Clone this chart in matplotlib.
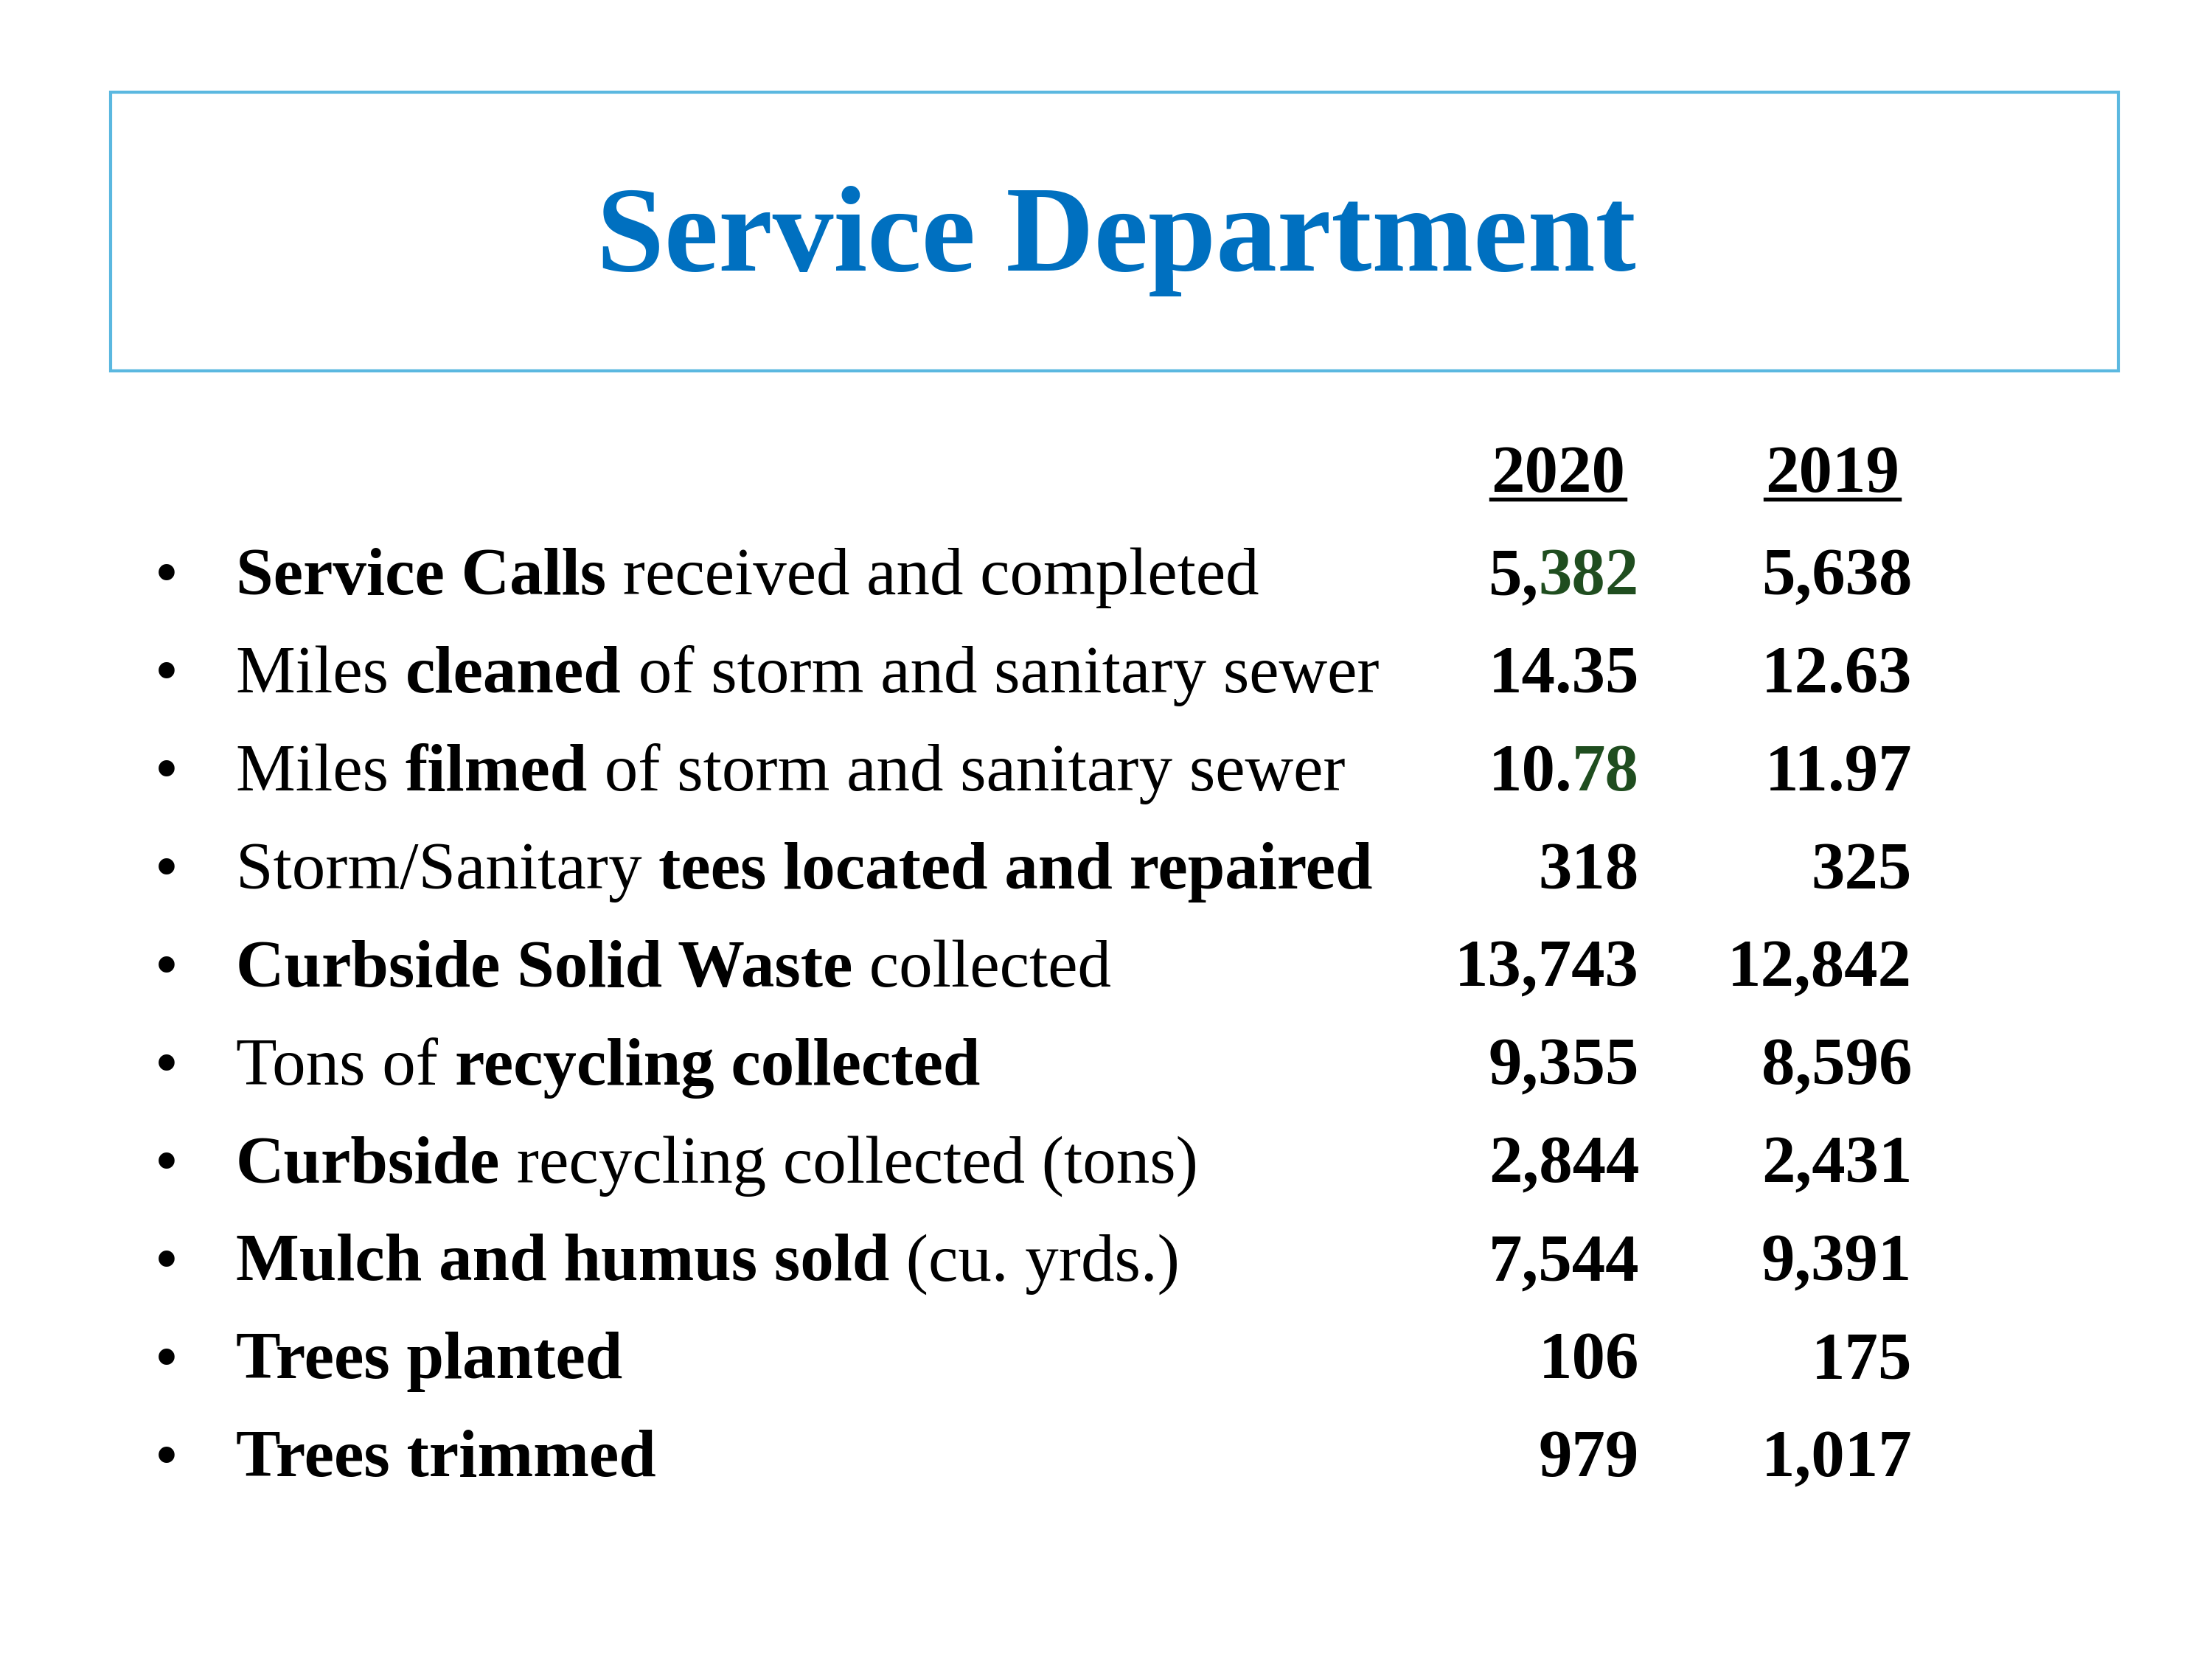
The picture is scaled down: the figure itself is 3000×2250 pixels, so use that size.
import matplotlib
matplotlib.use("Agg")
import matplotlib.pyplot as plt
from matplotlib.patches import Rectangle

title = "Service Department"
years = ["2020", "2019"]
# label segments: (text, bold)
labels = [
    [("Service Calls", True), (" received and completed", False)],
    [("Miles ", False), ("cleaned", True), (" of storm and sanitary sewer", False)],
    [("Miles ", False), ("filmed", True), (" of storm and sanitary sewer", False)],
    [("Storm/Sanitary ", False), ("tees located and repaired", True)],
    [("Curbside Solid Waste", True), (" collected", False)],
    [("Tons of ", False), ("recycling collected", True)],
    [("Curbside", True), (" recycling collected (tons)", False)],
    [("Mulch and humus sold", True), (" (cu. yrds.)", False)],
    [("Trees planted", True)],
    [("Trees trimmed", True)],
]
# value segments: (text, colour)
vals_2020 = [[("5,", "k"), ("382", "#1f4d1f")], [("14.35", "k")], [("10.", "k"), ("78", "#1f4d1f")],
             [("318", "k")], [("13,743", "k")], [("9,355", "k")], [("2,844", "k")],
             [("7,544", "k")], [("106", "k")], [("979", "k")]]
vals_2019 = ["5,638", "12.63", "11.97", "325", "12,842", "8,596", "2,431", "9,391", "175", "1,017"]

W, H = 1556, 1168
fig = plt.figure(figsize=(10, 7.5), dpi=300)
fig.patch.set_facecolor("white")
font = "Liberation Serif"
fig.patches.append(Rectangle((78 / W, 1 - 261 / H), (1490 - 78) / W, (261 - 65) / H,
                             transform=fig.transFigure, fill=False, edgecolor="#5bb8e0", lw=1.0))
fig.text(785 / W, 1 - 170 / H, title, ha="center", va="center", fontsize=39.7,
         fontweight="bold", color="#0070c0", family=font)

r = fig.canvas.get_renderer()
inv = fig.transFigure.inverted()
fs = 21.8

for x, y in zip([1096, 1289], years):
    t = fig.text(x / W, 1 - 335 / H, y, ha="center", va="center", fontsize=fs,
                 fontweight="bold", family=font)
    bb = t.get_window_extent(r)
    (x0, y0), (x1, _) = inv.transform([(bb.x0, bb.y0), (bb.x1, bb.y0)])
    fig.add_artist(plt.Line2D([x0, x1], [y0 + 0.004, y0 + 0.004], color="k", lw=1.3,
                              transform=fig.transFigure))

rows_y = [407, 476, 545, 614, 683, 752, 821, 890, 959, 1028]
for i, yy in enumerate(rows_y):
    yf = 1 - yy / H
    fig.text(117 / W, yf, "•", ha="center", va="center", fontsize=fs, family=font)
    x = 166 / W
    for txt, b in labels[i]:
        t = fig.text(x, yf, txt, ha="left", va="center", fontsize=fs,
                     fontweight="bold" if b else "normal", family=font)
        bb = t.get_window_extent(r)
        x = inv.transform((bb.x1, bb.y0))[0]
    x = 1153 / W
    for txt, c in reversed(vals_2020[i]):
        t = fig.text(x, yf, txt, ha="right", va="center", fontsize=fs, fontweight="bold",
                     color=c, family=font)
        bb = t.get_window_extent(r)
        x = inv.transform((bb.x0, bb.y0))[0]
    fig.text(1345 / W, yf, vals_2019[i], ha="right", va="center", fontsize=fs,
             fontweight="bold", family=font)

fig.savefig("out.png", dpi=300)
